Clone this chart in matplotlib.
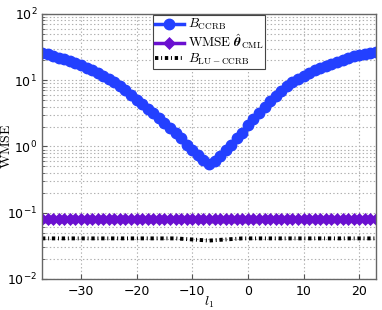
import numpy as np
import matplotlib.pyplot as plt

plt.rcParams['font.family'] = ['DejaVu Sans']
plt.rcParams['mathtext.fontset'] = 'cm'
plt.rcParams['lines.scale_dashes'] = False

# ---- data ----
l1 = np.arange(-37, 24)

B_ccrb = [
    25.7, 24.5, 23.4, 21.9, 20.9, 19.5, 18.2, 17.0, 15.5, 14.1,   # -37..-28
    12.9, 11.7, 10.5, 9.3, 8.1, 7.1, 6.0, 5.1, 4.4, 3.7,          # -27..-18
    3.2, 2.7, 2.3, 1.9, 1.6, 1.32, 1.07, 0.89, 0.74, 0.62,        # -17..-8
    0.55, 0.60, 0.72, 0.87, 1.07, 1.32, 1.62,                     # -7..-1
    2.1, 2.6, 3.2, 4.0, 4.8, 5.8, 6.9, 8.1, 9.3, 10.5,            # 0..9
    11.7, 12.9, 14.1, 15.5, 16.6, 17.8, 19.1, 20.4, 21.9, 22.9,   # 10..19
    24.0, 25.1, 25.7, 26.3,                                       # 20..23
]

wmse_cml = [0.081] * 61

B_lu = ([0.041] * 25
        + [0.0405, 0.040, 0.0395, 0.039, 0.0385, 0.038,
           0.0385, 0.039, 0.0395, 0.040, 0.0405]
        + [0.041] * 25)

# ---- figure ----
fig = plt.figure(figsize=(3.82, 3.10), dpi=100)
ax = fig.add_axes([0.11, 0.10, 0.874, 0.855])

ax.semilogy(l1, B_ccrb, '-o', color='#2340ff', lw=2.5, ms=7.5,
            label=r'$B_{\mathrm{CCRB}}$')
ax.semilogy(l1, wmse_cml, '-D', color='#6a0fd0', lw=2.5, ms=6.5,
            markeredgewidth=0.5, label=r'$\mathrm{WMSE}\ \hat{\mathbfit{\theta}}_{\mathrm{CML}}$')
ax.semilogy(l1, B_lu, color='black', lw=2.8,
            linestyle=(0, (2.4, 2.0, 0.7, 2.0)),
            label=r'$B_{\mathrm{LU-CCRB}}$')

ax.set_xlim(-37, 23)
ax.set_ylim(1e-2, 1e2)
ax.set_xticks([-30, -20, -10, 0, 10, 20])
ax.set_xlabel(r'$l_1$', fontsize=10)
ax.set_ylabel(r'$\mathrm{WMSE}$', fontsize=10)
ax.xaxis.set_label_coords(0.5, -0.06)
ax.yaxis.set_label_coords(-0.087, 0.5)

ax.grid(True, which='major', linestyle=':', color='#b0b0b0', lw=0.8)
ax.grid(True, which='minor', axis='y', linestyle=':', color='#b0b0b0', lw=0.8)
ax.tick_params(which='both', direction='in', labelsize=9, color='#555555')
ax.tick_params(axis='x', pad=4)
for sp in ax.spines.values():
    sp.set_color('#666666')
    sp.set_linewidth(1.0)

leg = ax.legend(loc='upper center', bbox_to_anchor=(0.5, 1.0), fontsize=9.5,
                handlelength=2.2, borderpad=0.15, labelspacing=0.0,
                handletextpad=0.3, borderaxespad=0.1, fancybox=False,
                framealpha=1, edgecolor='#444444')
leg.get_frame().set_linewidth(0.8)

fig.savefig('out.png', dpi=100)
